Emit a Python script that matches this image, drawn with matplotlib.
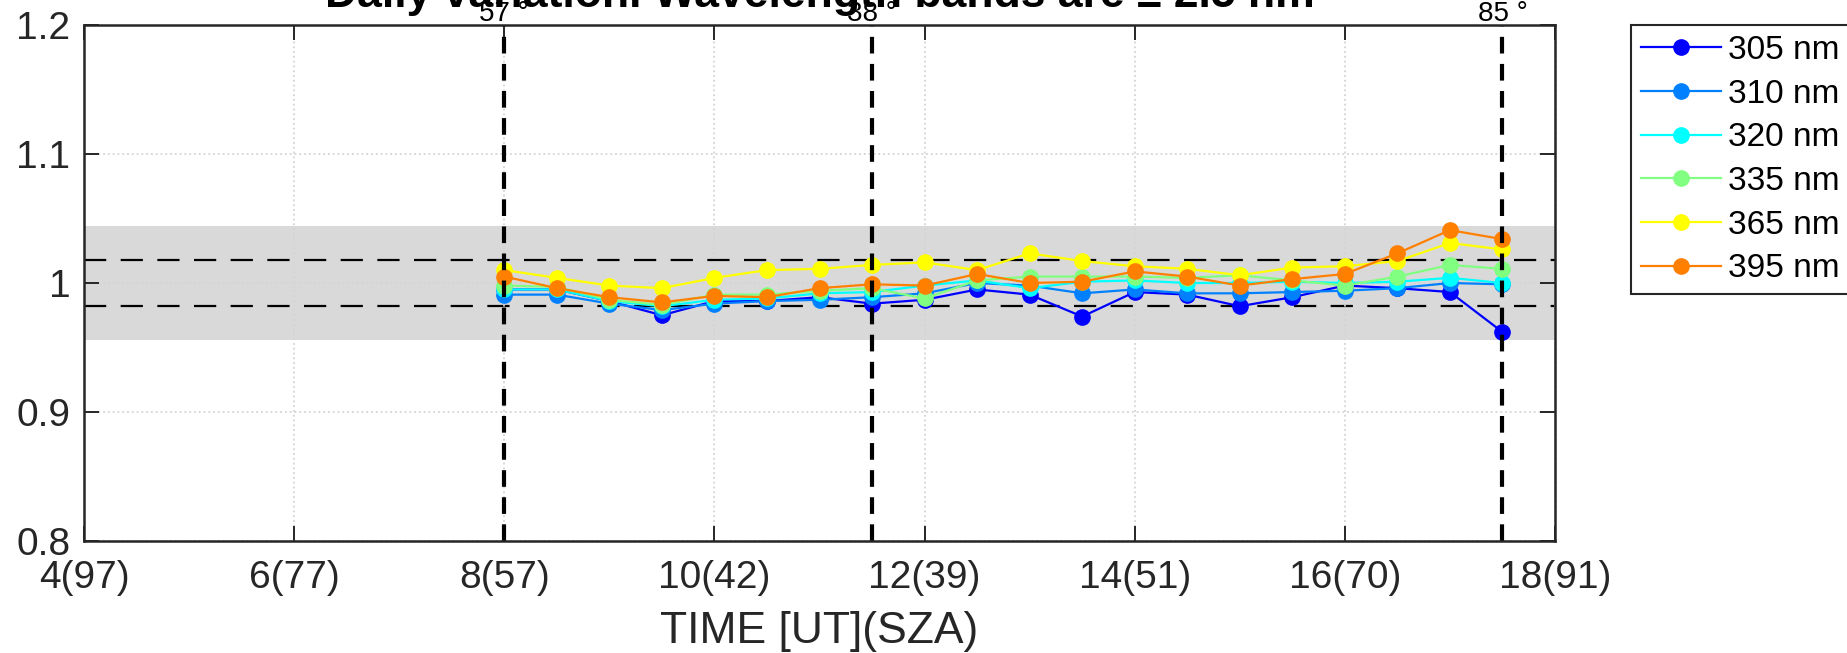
import numpy as np
import matplotlib
matplotlib.use("Agg")
import matplotlib.pyplot as plt

plt.rcParams['font.family'] = ['Liberation Sans', 'DejaVu Sans']

# --- data: normalised daily irradiance ratio per wavelength band ---
hours = [8.0, 8.5, 9.0, 9.5, 10.0, 10.5, 11.0, 11.5, 12.0, 12.5,
         13.0, 13.5, 14.0, 14.5, 15.0, 15.5, 16.0, 16.5, 17.0, 17.5]

r305 = [0.995, 0.995, 0.986, 0.975, 0.986, 0.986, 0.989, 0.984, 0.987, 0.995,
        0.991, 0.974, 0.993, 0.991, 0.982, 0.989, 0.998, 0.996, 0.993, 0.962]
r310 = [0.991, 0.991, 0.984, 0.979, 0.984, 0.986, 0.987, 0.989, 0.992, 1.000,
        0.998, 0.992, 0.995, 0.992, 0.992, 0.993, 0.994, 0.996, 1.000, 0.999]
r320 = [0.995, 0.995, 0.986, 0.982, 0.987, 0.988, 0.992, 0.993, 0.998, 1.002,
        0.996, 1.001, 1.002, 1.000, 1.000, 1.001, 1.000, 1.001, 1.004, 1.000]
r335 = [0.998, 0.997, 0.987, 0.983, 0.991, 0.991, 0.994, 0.996, 0.988, 1.002,
        1.005, 1.005, 1.005, 1.004, 1.006, 1.002, 0.998, 1.005, 1.014, 1.011]
r365 = [1.010, 1.004, 0.998, 0.996, 1.004, 1.010, 1.011, 1.014, 1.016, 1.010,
        1.023, 1.017, 1.013, 1.011, 1.006, 1.012, 1.013, 1.017, 1.031, 1.026]
r395 = [1.005, 0.996, 0.989, 0.985, 0.990, 0.989, 0.996, 0.999, 0.998, 1.007,
        1.000, 1.001, 1.009, 1.005, 0.998, 1.003, 1.007, 1.023, 1.041, 1.034]

series = [r305, r310, r320, r335, r365, r395]
labels = ['305 nm', '310 nm', '320 nm', '335 nm', '365 nm', '395 nm']
colors = ['#0000ff', '#0080ff', '#00ffff', '#80ff80', '#ffff00', '#ff8000']

# x ticks: UT hour with solar zenith angle in brackets
xticks = [4, 6, 8, 10, 12, 14, 16, 18]
xticklabels = ['4(97)', '6(77)', '8(57)', '10(42)', '12(39)', '14(51)', '16(70)', '18(91)']
yticks = [0.8, 0.9, 1.0, 1.1, 1.2]
yticklabels = ['0.8', '0.9', '1', '1.1', '1.2']

# marked scan times and their SZA
mark_hours = [8.0, 11.5, 17.5]
mark_sza = ['57', '38', '85']

band_half = 0.044     # grey tolerance band
inner_half = 0.018    # dashed inner limits

fig = plt.figure(figsize=(18.47, 6.53), dpi=100)
ax = fig.add_axes([0.0455, 0.1715, 0.7964, 0.7902])

ax.axhspan(1 - band_half, 1 + band_half, color='#d9d9d9', lw=0, zorder=0)
for y in (1 + inner_half, 1 - inner_half):
    ax.axhline(y, color='black', lw=1.6, ls=(0, (10, 6.5)), zorder=1)

for vals, lab, c in zip(series, labels, colors):
    ax.plot(hours, vals, '-o', color=c, lw=1.6, ms=11, label=lab, zorder=3)

for h, s in zip(mark_hours, mark_sza):
    ax.axvline(h, color='black', lw=3, ls=(0, (4, 2.5)), zorder=4)
    ax.text(h, 1.2 + 0.003, s + ' \u00b0', ha='center', va='baseline',
            fontsize=20, zorder=6)

ax.set_xlim(4, 18)
ax.set_ylim(0.8, 1.2)
ax.set_xticks(xticks)
ax.set_xticklabels(xticklabels)
ax.set_yticks(yticks)
ax.set_yticklabels(yticklabels)

ax.grid(True, ls=':', color='#d4d4d4', lw=1.3, zorder=5)
ax.set_axisbelow(False)

ax.tick_params(direction='in', length=11, width=1.4, colors='#262626',
               labelsize=28, top=True, right=True)
ax.tick_params(axis='x', pad=14)
ax.tick_params(axis='y', pad=10)
for sp in ax.spines.values():
    sp.set_linewidth(1.8)
    sp.set_color('#262626')
    sp.set_zorder(7)

ax.set_xlabel('TIME [UT](SZA)', fontsize=32, color='#262626')
ax.xaxis.label.set_va('baseline')
ax.xaxis.set_label_coords(0.5, -0.198)

ax.text(0.5, 1.035, u'Daily variation. Wavelength bands are \u00b1 2.5 nm',
        transform=ax.transAxes, ha='center', va='baseline',
        fontsize=32, fontweight='bold')

leg = fig.legend(loc='upper left', bbox_to_anchor=(1631 / 1847, 1 - 25 / 653),
                 fontsize=24, frameon=True, fancybox=False, framealpha=1,
                 edgecolor='#262626', handlelength=2.4, handletextpad=0.2,
                 labelspacing=0.38, borderpad=0.3, borderaxespad=0, numpoints=1)
leg.get_frame().set_linewidth(1.5)

fig.savefig('out.png', dpi=100)
